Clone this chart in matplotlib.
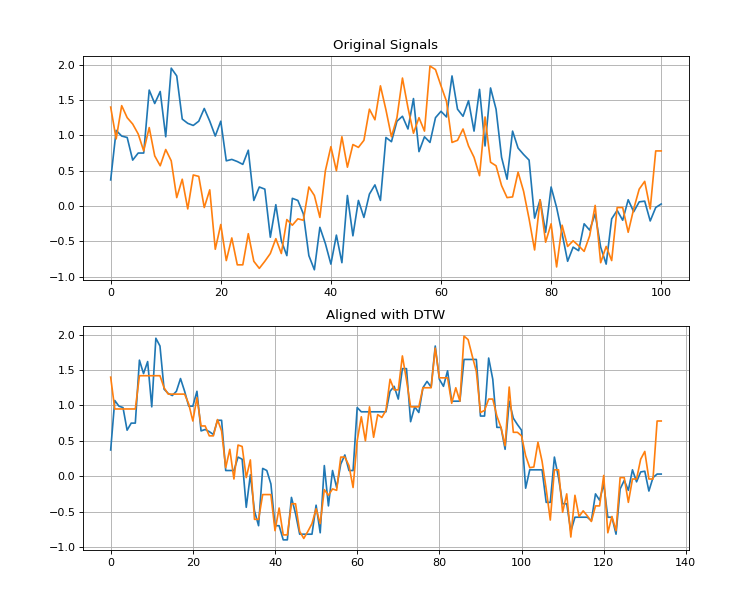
import numpy as np
import matplotlib
matplotlib.use('Agg')
import matplotlib.pyplot as plt

# signals (x = 0..100)
sig_a = [0.37, 1.07, 0.99, 0.97, 0.65, 0.75, 0.75, 1.64, 1.45, 1.62,
         0.98, 1.95, 1.84, 1.23, 1.17, 1.14, 1.20, 1.38, 1.20, 0.99,
         1.20, 0.64, 0.66, 0.63, 0.59, 0.79, 0.08, 0.27, 0.24, -0.44,
         0.02, -0.49, -0.70, 0.11, 0.08, -0.11, -0.70, -0.90, -0.30, -0.53,
         -0.82, -0.41, -0.80, 0.15, -0.42, 0.08, -0.16, 0.17, 0.30, 0.08,
         0.97, 0.91, 1.20, 1.27, 1.09, 1.52, 0.77, 0.98, 0.90, 1.25,
         1.34, 1.26, 1.84, 1.37, 1.27, 1.49, 1.06, 1.65, 0.85, 1.67,
         1.37, 0.69, 0.38, 1.06, 0.82, 0.73, 0.65, -0.17, 0.09, -0.37,
         0.27, -0.02, -0.39, -0.78, -0.58, -0.63, -0.25, -0.34, -0.11, -0.58,
         -0.82, -0.18, -0.06, -0.20, 0.09, -0.08, 0.06, 0.07, -0.21, -0.02,
         0.03]
sig_b = [1.40, 0.95, 1.42, 1.25, 1.16, 1.02, 0.78, 1.11, 0.71, 0.57,
         0.80, 0.64, 0.12, 0.38, -0.04, 0.44, 0.42, -0.02, 0.23, -0.61,
         -0.26, -0.77, -0.45, -0.83, -0.83, -0.39, -0.78, -0.88, -0.78, -0.67,
         -0.46, -0.67, -0.19, -0.27, -0.18, -0.20, 0.27, 0.15, -0.16, 0.50,
         0.84, 0.50, 0.98, 0.55, 0.87, 0.83, 0.93, 1.37, 1.22, 1.70,
         1.36, 0.98, 1.25, 1.81, 1.39, 1.03, 1.25, 1.06, 1.98, 1.93,
         1.70, 1.48, 0.90, 0.93, 1.09, 0.85, 0.69, 0.43, 1.26, 0.62,
         0.57, 0.29, 0.12, 0.13, 0.48, 0.21, -0.18, -0.62, 0.09, -0.51,
         -0.25, -0.86, -0.27, -0.57, -0.49, -0.56, -0.64, -0.42, 0.01, -0.80,
         -0.57, -0.77, -0.02, -0.02, -0.37, -0.04, 0.24, 0.35, -0.04, 0.78,
         0.78]

a = np.array(sig_a)
b = np.array(sig_b)


def dtw_path(x, y):
    n, m = len(x), len(y)
    D = np.full((n + 1, m + 1), np.inf)
    D[0, 0] = 0
    for i in range(1, n + 1):
        for j in range(1, m + 1):
            c = abs(x[i - 1] - y[j - 1])
            D[i, j] = c + min(D[i - 1, j], D[i, j - 1], D[i - 1, j - 1])
    i, j = n, m
    path = []
    while i > 0 and j > 0:
        path.append((i - 1, j - 1))
        k = np.argmin([D[i - 1, j - 1], D[i - 1, j], D[i, j - 1]])
        if k == 0:
            i, j = i - 1, j - 1
        elif k == 1:
            i -= 1
        else:
            j -= 1
    return path[::-1]


path = dtw_path(a, b)
ia = [p[0] for p in path]
ib = [p[1] for p in path]

plt.figure(figsize=(739 / 80, 594 / 80), dpi=80)
plt.subplots_adjust(left=0.1125, right=0.932, top=0.906, bottom=0.074, hspace=0.205)

plt.subplot(2, 1, 1)
plt.plot(a)
plt.plot(b)
plt.title('Original Signals')
plt.grid(True)

plt.subplot(2, 1, 2)
plt.plot(a[ia])
plt.plot(b[ib])
plt.title('Aligned with DTW')
plt.grid(True)

plt.savefig('out.png', dpi=80)
